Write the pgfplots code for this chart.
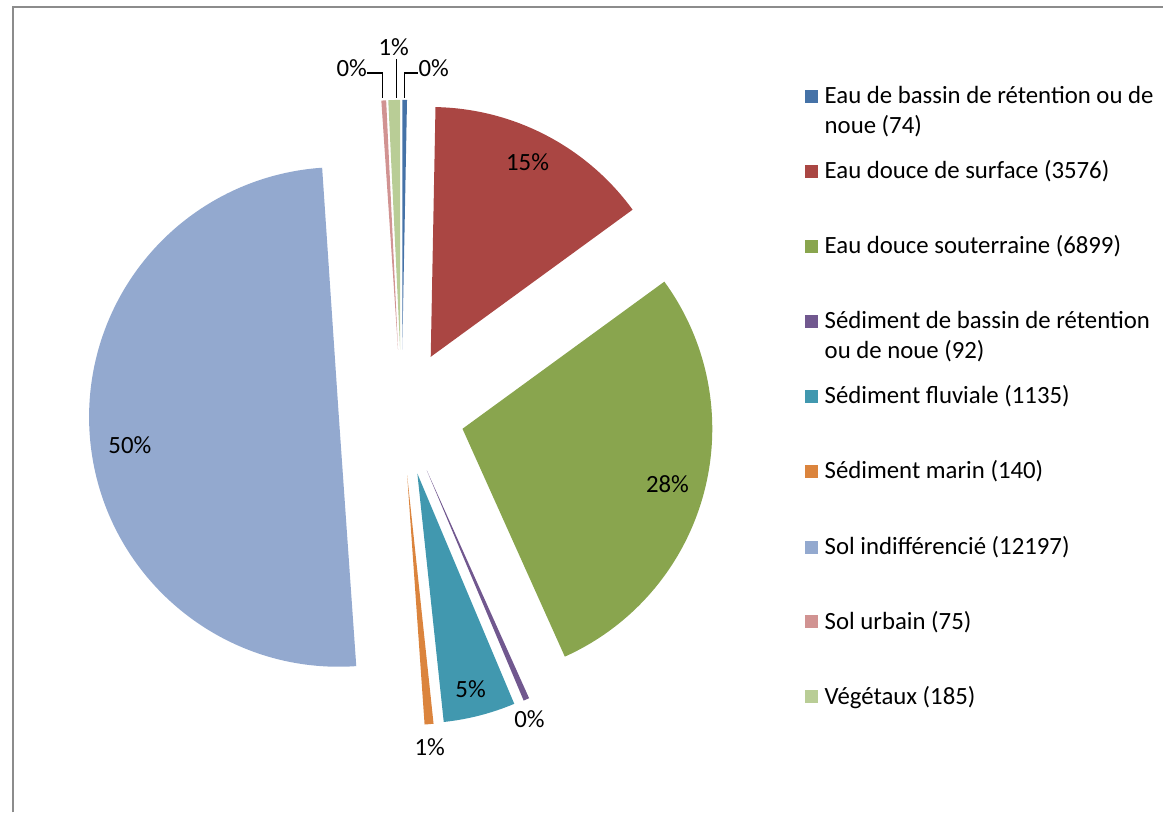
\documentclass[border=0pt]{standalone}
\usepackage{pgfplots}
\pgfplotsset{compat=1.18}
\usepackage{pgfplotstable}
\usepackage{fontspec}
\setmainfont{Carlito}
\definecolor{c0}{HTML}{4572A7}
\definecolor{c1}{HTML}{AA4643}
\definecolor{c2}{HTML}{89A54E}
\definecolor{c3}{HTML}{71588F}
\definecolor{c4}{HTML}{4198AF}
\definecolor{c5}{HTML}{DB843D}
\definecolor{c6}{HTML}{93A9CF}
\definecolor{c7}{HTML}{D19392}
\definecolor{c8}{HTML}{B9CD96}
\definecolor{framegray}{HTML}{8C8C8C}
\newcommand\lgfont{\fontsize{12.4}{15}\selectfont}
\pgfplotstableread{
value
74
3576
6899
92
1135
140
12197
75
185
}\pietable
\begin{document}
\begin{tikzpicture}
\begin{axis}[width=582pt, height=406.5pt, scale only axis,
  xmin=0, xmax=1164, ymin=0, ymax=813, hide axis, clip=false]
\path (axis cs:0,0) rectangle (axis cs:1164,813);
% frame
\draw[framegray, line width=1pt] (axis cs:13,0) -- (axis cs:13,806) -- (axis cs:1164,806);
% total
\def\total{0}
\pgfplotsforeachungrouped \i in {0,...,8}{%
  \pgfplotstablegetelem{\i}{value}\of\pietable
  \pgfmathsetmacro\v{\pgfplotsretval/1000}%
  \pgfmathsetmacro\total{\total+\v}%
}
\def\cum{0}
\pgfplotsforeachungrouped \i in {0,...,8}{%
  \pgfplotstablegetelem{\i}{value}\of\pietable
  \pgfmathsetmacro\v{\pgfplotsretval/1000}%
  \pgfmathsetmacro\aS{90-360*\cum/\total}%
  \pgfmathsetmacro\aE{90-360*(\cum+\v)/\total}%
  \pgfmathsetmacro\aM{(\aS+\aE)/2}%
  \pgfmathsetmacro\tx{402+63*cos(\aM)}%
  \pgfmathsetmacro\ty{400+63*sin(\aM)}%
  \edef\temp{\noexpand\fill[c\i] (axis cs:\tx,\ty) -- +(\aS:125pt) arc[start angle=\aS, end angle=\aE, radius=125pt] -- cycle;}%
  \temp
  \pgfmathsetmacro\cum{\cum+\v}%
}
% data labels
\begin{scope}[every node/.style={font=\lgfont, inner sep=0pt, text=black}]
\node at (axis cs:434,745) {0\%};
\node at (axis cs:394,766) {1\%};
\node at (axis cs:352,745) {0\%};
\node at (axis cs:528,651) {15\%};
\node at (axis cs:668,328) {28\%};
\node at (axis cs:130,367) {50\%};
\node at (axis cs:471,123) {5\%};
\node at (axis cs:530,93) {0\%};
\node at (axis cs:430,65) {1\%};
\end{scope}
\draw[black, line width=0.7pt] (axis cs:418,740) -- (axis cs:405,740) -- (axis cs:405,715);
\draw[black, line width=0.7pt] (axis cs:397,754) -- (axis cs:397,715);
\draw[black, line width=0.7pt] (axis cs:367,740) -- (axis cs:383,740) -- (axis cs:383,715);
% legend
\begin{scope}[every node/.style={font=\lgfont, inner sep=0pt, anchor=base west, text=black}]
\fill[c0] (axis cs:806,723) rectangle (axis cs:819,710);
\node at (axis cs:825,709) {Eau de bassin de rétention ou de};
\node at (axis cs:825,679) {noue (74)};
\fill[c1] (axis cs:806,648) rectangle (axis cs:819,635);
\node at (axis cs:825,634) {Eau douce de surface (3576)};
\fill[c2] (axis cs:806,573) rectangle (axis cs:819,560);
\node at (axis cs:825,559) {Eau douce souterraine (6899)};
\fill[c3] (axis cs:806,498) rectangle (axis cs:819,485);
\node at (axis cs:825,484) {Sédiment de bassin de rétention};
\node at (axis cs:825,454) {ou de noue (92)};
\fill[c4] (axis cs:806,423) rectangle (axis cs:819,410);
\node at (axis cs:825,409) {Sédiment fluviale (1135)};
\fill[c5] (axis cs:806,348) rectangle (axis cs:819,335);
\node at (axis cs:825,334) {Sédiment marin (140)};
\fill[c6] (axis cs:806,272) rectangle (axis cs:819,259);
\node at (axis cs:825,258) {Sol indifférencié (12197)};
\fill[c7] (axis cs:806,197) rectangle (axis cs:819,184);
\node at (axis cs:825,183) {Sol urbain (75)};
\fill[c8] (axis cs:806,122) rectangle (axis cs:819,109);
\node at (axis cs:825,108) {Végétaux (185)};
\end{scope}
\end{axis}
\end{tikzpicture}
\end{document}
